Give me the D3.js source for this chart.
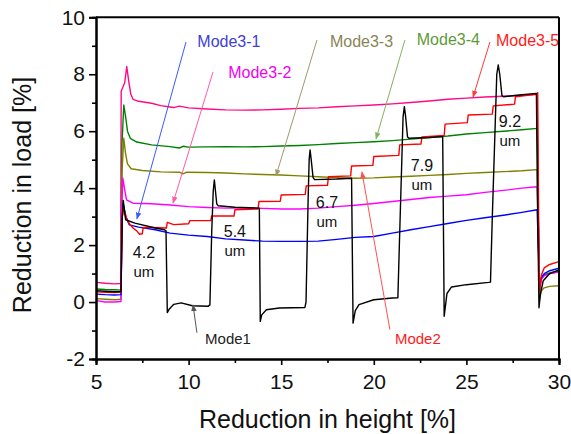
<!DOCTYPE html>
<html><head><meta charset="utf-8">
<script src="https://cdn.jsdelivr.net/npm/d3@7"></script>
<style>body{margin:0;background:#fff}svg{display:block}text{font-family:"Liberation Sans",Arial,sans-serif}</style>
</head><body>
<svg id="chart" width="571" height="434"></svg>
<script>
// ---------- data ----------
const xTicks = [5, 10, 15, 20, 25, 30];
const yTicks = [-2, 0, 2, 4, 6, 8, 10];
const xMinor = [7.5, 12.5, 17.5, 22.5, 27.5];
const yMinor = [-1, 1, 3, 5, 7, 9];

const mode35 = [[5,0.69],[5.5,0.66],[6,0.64],[6.33,0.65],[6.36,7.4],[6.55,7.7],[6.66,8.27],[6.78,7.7],[6.88,7.3],[7.0,7.12],[7.3,7.05],[8.0,6.98],[8.5,6.9],[8.9,6.86],[9.2,6.83],[9.5,6.88],[10,6.82],[11,6.78],[12,6.75],[13,6.74],[14,6.75],[15,6.77],[16,6.8],[17,6.82],[18,6.86],[19,6.89],[20,6.92],[21,6.96],[22,7.01],[23,7.06],[24,7.12],[25,7.16],[26,7.2],[27,7.23],[28,7.26],[28.82,7.3],[28.88,3],[28.95,0.5],[29.05,0.85],[29.2,0.95],[29.5,1.0],[30,1.07]];
const mode34 = [[5,0.46],[5.5,0.44],[6,0.43],[6.35,0.42],[6.4,5.5],[6.5,6.92],[6.6,6.5],[6.7,6.0],[6.85,5.75],[7.2,5.62],[8,5.52],[9,5.46],[9.5,5.41],[9.7,5.47],[10,5.44],[11,5.45],[12,5.46],[13,5.45],[14,5.46],[15,5.48],[16,5.5],[17,5.53],[18,5.57],[19,5.6],[20,5.63],[21,5.67],[22,5.72],[23,5.78],[24,5.83],[25,5.9],[26,5.95],[27,6.0],[28,6.05],[28.82,6.1],[28.88,3],[28.95,0.45],[29.05,0.85],[29.2,0.95],[29.5,1.02],[30,1.1]];
const mode33 = [[5,0.12],[5.5,0.1],[6,0.08],[6.35,0.1],[6.4,4.5],[6.5,5.75],[6.6,5.2],[6.7,4.85],[6.9,4.68],[7.5,4.62],[8.5,4.57],[9.5,4.56],[9.7,4.5],[9.9,4.56],[11,4.55],[12,4.53],[13,4.5],[14,4.48],[15,4.46],[16,4.43],[17,4.4],[18,4.37],[19,4.35],[20,4.36],[21,4.39],[22,4.42],[23,4.45],[24,4.48],[25,4.52],[26,4.55],[27,4.58],[28,4.61],[28.82,4.65],[28.88,2.5],[28.95,0.1],[29.05,0.4],[29.2,0.5],[29.5,0.55],[30,0.57]];
const mode32 = [[5,0.05],[5.5,0.0],[6,0.0],[6.35,0.02],[6.4,3.5],[6.45,4.35],[6.55,3.94],[6.65,3.59],[7,3.47],[8,3.45],[9,3.41],[10,3.35],[11,3.32],[12,3.3],[13,3.3],[14,3.29],[15,3.27],[16,3.27],[17,3.3],[18,3.35],[19,3.4],[20,3.46],[21,3.53],[22,3.6],[23,3.67],[24,3.72],[25,3.77],[26,3.85],[27,3.92],[28,4.0],[28.82,4.05],[28.88,2.5],[28.95,0.4],[29.05,0.8],[29.2,0.92],[29.5,1.0],[30,1.05]];
const mode31 = [[5,0.28],[5.5,0.26],[6,0.25],[6.35,0.26],[6.4,2.8],[6.47,3.47],[6.6,3.0],[6.8,2.71],[7.3,2.63],[8.2,2.54],[9,2.42],[10,2.35],[11,2.3],[12,2.22],[13,2.18],[14,2.14],[15,2.13],[16,2.13],[17,2.14],[18,2.2],[19,2.27],[20,2.3],[21,2.42],[22,2.54],[23,2.65],[24,2.76],[25,2.87],[26,2.96],[27,3.05],[28,3.15],[28.82,3.24],[28.88,2],[28.95,0.65],[29.05,0.85],[29.2,1.0],[29.5,1.1],[30,1.19]];
const mode2 = [[5,0.36],[5.5,0.34],[6,0.33],[6.35,0.35],[6.42,3.0],[6.5,3.3],[6.65,2.95],[6.8,2.75],[7.0,2.6],[7.2,2.5],[7.35,2.38],[7.5,2.4],[7.55,2.62],[8.0,2.62],[8.8,2.6],[8.85,2.8],[9.2,2.72],[10.0,2.75],[10.07,2.86],[11.2,2.86],[11.24,3.02],[12.45,3.02],[12.5,3.24],[13.75,3.27],[13.8,3.53],[14.95,3.54],[15.0,3.76],[16.3,3.78],[16.35,4.08],[17.5,4.1],[17.55,4.4],[18.75,4.43],[18.8,4.78],[19.95,4.8],[20.0,5.11],[21.35,5.15],[21.4,5.52],[22.55,5.55],[22.6,5.8],[23.8,5.85],[23.85,6.25],[25.05,6.3],[25.1,6.57],[26.4,6.6],[26.45,6.89],[27.6,6.95],[27.65,7.21],[28.75,7.3],[28.85,7.35],[28.9,3],[28.95,0.4],[29.05,0.95],[29.2,1.2],[29.5,1.32],[30,1.42]];
const mode1 = [[5,0.4],[5.5,0.38],[6,0.36],[6.35,0.37],[6.42,3.0],[6.47,3.57],[6.6,2.89],[7.1,2.77],[8.2,2.6],[8.7,2.54],[8.78,2.5],[8.85,-0.37],[8.95,-0.25],[9.2,-0.08],[9.6,-0.03],[10.2,-0.13],[11.05,-0.15],[11.15,-0.1],[11.25,2.5],[11.33,3.9],[11.39,4.29],[11.45,3.9],[11.52,3.45],[11.6,3.38],[12.5,3.33],[13.82,3.3],[13.87,-0.68],[13.95,-0.45],[14.2,-0.27],[14.9,-0.21],[16.28,-0.19],[16.34,0],[16.45,3.5],[16.51,5.0],[16.56,5.34],[16.62,5.0],[16.72,4.38],[16.8,4.3],[18,4.32],[18.8,4.35],[18.88,-0.74],[19.0,-0.3],[19.2,-0.09],[20.0,0.08],[21.0,0.14],[21.3,0.15],[21.38,2],[21.58,6.5],[21.65,6.86],[21.72,6.5],[21.82,5.8],[21.9,5.75],[23,5.78],[23.72,5.81],[23.8,-0.5],[23.95,0.3],[24.2,0.53],[25.0,0.61],[26.2,0.69],[26.3,0.7],[26.4,3],[26.64,8.0],[26.72,8.33],[26.8,8.0],[26.92,7.25],[27.0,7.21],[28,7.28],[28.78,7.33],[28.85,3],[28.92,-0.2],[29.0,0.3],[29.15,0.75],[29.5,1.0],[30,1.13]];

const seriesNames = ["Mode3-5","Mode3-4","Mode3-3","Mode3-2","Mode3-1","Mode2","Mode1"];
const seriesColors = ["#ff0a84","#008000","#808000","#ff00ff","#0000ff","#ff0000","#000000"];
const seriesData = [mode35, mode34, mode33, mode32, mode31, mode2, mode1];

const thickLabels = ["4.2","5.4","6.7","7.9","9.2"];
const thickPos = [[7.59,1.56],[12.5,2.28],[17.47,3.31],[22.6,4.61],[27.35,6.16]];

const annText = ["Mode3-1","Mode3-2","Mode3-3","Mode3-4","Mode3-5","Mode2","Mode1"];
const annTextColor = ["#4040d8","#f000f0","#8a8456","#5f9a3a","#ff1a1a","#ff1a1a","#222222"];
const annLineColor = ["#3a5aff","#ff5aaa","#a09a6e","#88b060","#ff3a3a","#ff5050","#555555"];
const annTextPos = [[10.47,8.97],[12.14,7.86],[17.63,8.97],[22.32,9.03],[26.6,8.99],[21.14,-1.46],[10.89,-1.46]];
const annFrom = [[9.86,9.13],[11.32,8.08],[16.93,9.2],[21.68,9.2],[26.27,9.13],[20.87,-0.97],[10.45,-1.08]];
const annTo = [[7.21,2.92],[9.16,3.48],[14.72,4.43],[20.12,5.73],[25.36,7.2],[19.36,4.57],[10.24,-0.1]];
</script>
<script>
const W = 571, H = 434;
const m = {l: 96, r: 12, t: 17.3, b: 75};
const svg = d3.select("#chart");
const x = d3.scaleLinear().domain([5, 30]).range([m.l, W - m.r]);
const y = d3.scaleLinear().domain([-2, 10]).range([H - m.b, m.t]);

svg.append("clipPath").attr("id","clip").append("rect")
  .attr("x", m.l).attr("y", m.t).attr("width", W - m.l - m.r).attr("height", H - m.t - m.b);

const defs = svg.append("defs");
annLineColor.forEach((c, i) => {
  defs.append("marker").attr("id", "ah" + i)
    .attr("viewBox", "0 0 10 10").attr("refX", 9).attr("refY", 5)
    .attr("markerWidth", 7).attr("markerHeight", 7).attr("markerUnits", "userSpaceOnUse")
    .attr("orient", "auto")
    .append("path").attr("d", "M0,1L10,5L0,9Z").attr("fill", c);
});

const line = d3.line().x(d => x(d[0])).y(d => y(d[1]));
const g = svg.append("g").attr("clip-path", "url(#clip)");
seriesData.forEach((s, i) => {
  g.append("path").datum(s).attr("d", line)
    .attr("fill", "none").attr("stroke", seriesColors[i])
    .attr("stroke-width", 1.4).attr("stroke-linejoin", "round");
});

annText.forEach((t, i) => {
  svg.append("line")
    .attr("x1", x(annFrom[i][0])).attr("y1", y(annFrom[i][1]))
    .attr("x2", x(annTo[i][0])).attr("y2", y(annTo[i][1]))
    .attr("stroke", annLineColor[i]).attr("stroke-width", 1)
    .attr("marker-end", "url(#ah" + i + ")");
  svg.append("text").attr("x", x(annTextPos[i][0])).attr("y", y(annTextPos[i][1]))
    .attr("fill", annTextColor[i]).attr("font-size", i >= 5 ? 15 : 16).text(t);
});

thickLabels.forEach((t, i) => {
  const cx = x(thickPos[i][0]), cy = y(thickPos[i][1]);
  svg.append("text").attr("x", cx).attr("y", cy).attr("text-anchor", "middle")
    .attr("font-size", 16).attr("fill", "#111").text(t);
  svg.append("text").attr("x", cx).attr("y", cy + 19).attr("text-anchor", "middle")
    .attr("font-size", 15).attr("fill", "#111").text("um");
});

const fmt = d => String(d);
const xAxis = svg.append("g").attr("transform", `translate(0,${H - m.b})`)
  .call(d3.axisBottom(x).tickValues(xTicks).tickSize(6).tickPadding(6).tickFormat(fmt));
const xAxisMinor = svg.append("g").attr("transform", `translate(0,${H - m.b})`)
  .call(d3.axisBottom(x).tickValues(xMinor).tickSize(4).tickFormat(""));
const yAxis = svg.append("g").attr("transform", `translate(${m.l},0)`)
  .call(d3.axisLeft(y).tickValues(yTicks).tickSize(7).tickPadding(4).tickFormat(fmt));
const yAxisMinor = svg.append("g").attr("transform", `translate(${m.l},0)`)
  .call(d3.axisLeft(y).tickValues(yMinor).tickSize(4).tickFormat(""));
[xAxis, xAxisMinor, yAxis, yAxisMinor].forEach(a => {
  a.selectAll("path").attr("stroke-width", 2);
  a.selectAll("line").attr("stroke-width", 1.6);
  a.selectAll("text").attr("font-size", 21).attr("font-family", '"Liberation Sans",Arial,sans-serif').attr("fill", "#111");
});
xAxis.selectAll("text").attr("dy", "0.85em");

svg.append("line").attr("x1", m.l).attr("x2", W - m.r).attr("y1", m.t).attr("y2", m.t)
  .attr("stroke", "#000").attr("stroke-width", 2);
svg.append("line").attr("x1", W - m.r).attr("x2", W - m.r).attr("y1", m.t).attr("y2", H - m.b)
  .attr("stroke", "#000").attr("stroke-width", 2);

svg.append("text").attr("x", (m.l + W - m.r) / 2).attr("y", 428).attr("text-anchor", "middle")
  .attr("font-size", 25).attr("fill", "#111").text("Reduction in height [%]");
svg.append("text").attr("transform", "translate(31,195) rotate(-90)").attr("text-anchor", "middle")
  .attr("font-size", 25).attr("fill", "#111").text("Reduction in load [%]");
</script>
</body></html>
